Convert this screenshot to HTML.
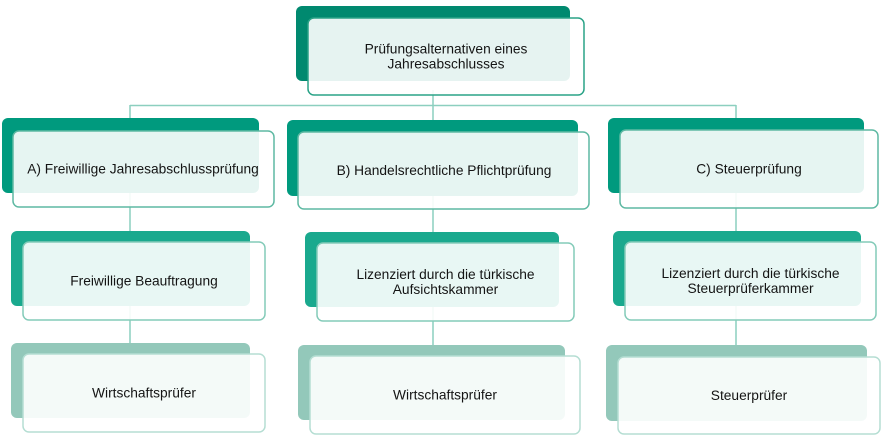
<!DOCTYPE html>
<html><head><meta charset="utf-8"><style>
html,body{margin:0;padding:0;background:#fff;}
svg{display:block;}
text{font-family:"Liberation Sans",Arial,sans-serif;font-size:13.75px;fill:#141414;}
</style></head><body>
<svg width="882" height="437" viewBox="0 0 882 437" xmlns="http://www.w3.org/2000/svg">
<g stroke="#8ccfbf" stroke-width="1.5" fill="none">
<line x1="130" y1="105.5" x2="736" y2="105.5"/>
<line x1="130" y1="105" x2="130" y2="345"/>
<line x1="433" y1="90" x2="433" y2="347"/>
<line x1="736" y1="105" x2="736" y2="347"/>
</g>
<!-- top -->
<rect x="296" y="6" width="274" height="75" rx="6" fill="#00896f"/>
<rect x="308" y="18" width="276" height="77" rx="6" fill="#fff" fill-opacity="0.9" stroke="#2aa387" stroke-width="1.5"/>
<text x="446" y="53.5" text-anchor="middle">Prüfungsalternativen eines</text>
<text x="446" y="68.5" text-anchor="middle">Jahresabschlusses</text>
<!-- level 1 -->
<rect x="2" y="118" width="257" height="75" rx="6" fill="#009a7e"/>
<rect x="13" y="131" width="261" height="76" rx="6" fill="#fff" fill-opacity="0.9" stroke="#5fb9a3" stroke-width="1.5"/>
<text x="143" y="173.5" text-anchor="middle">A) Freiwillige Jahresabschlussprüfung</text>
<rect x="287" y="120" width="291" height="76" rx="6" fill="#009a7e"/>
<rect x="298" y="132" width="291" height="77" rx="6" fill="#fff" fill-opacity="0.9" stroke="#5fb9a3" stroke-width="1.5"/>
<text x="444" y="175" text-anchor="middle">B) Handelsrechtliche Pflichtprüfung</text>
<rect x="608" y="118" width="256" height="75" rx="6" fill="#009a7e"/>
<rect x="620" y="130" width="258" height="78" rx="6" fill="#fff" fill-opacity="0.9" stroke="#5fb9a3" stroke-width="1.5"/>
<text x="749" y="173.5" text-anchor="middle">C) Steuerprüfung</text>
<!-- level 2 -->
<rect x="11" y="231" width="239" height="75" rx="6" fill="#1aa98e"/>
<rect x="23" y="242" width="242" height="78" rx="6" fill="#fff" fill-opacity="0.9" stroke="#84cbb9" stroke-width="1.5"/>
<text x="144" y="285.5" text-anchor="middle">Freiwillige Beauftragung</text>
<rect x="305" y="232" width="254" height="75" rx="6" fill="#1aa98e"/>
<rect x="317" y="243" width="257" height="78" rx="6" fill="#fff" fill-opacity="0.9" stroke="#84cbb9" stroke-width="1.5"/>
<text x="445.5" y="279" text-anchor="middle">Lizenziert durch die türkische</text>
<text x="445.5" y="294" text-anchor="middle">Aufsichtskammer</text>
<rect x="613" y="231" width="248" height="75" rx="6" fill="#1aa98e"/>
<rect x="625" y="242" width="251" height="78" rx="6" fill="#fff" fill-opacity="0.9" stroke="#84cbb9" stroke-width="1.5"/>
<text x="750.5" y="278" text-anchor="middle">Lizenziert durch die türkische</text>
<text x="750.5" y="293" text-anchor="middle">Steuerprüferkammer</text>
<!-- level 3 -->
<rect x="11" y="343" width="239" height="75" rx="6" fill="#93c8ba"/>
<rect x="23" y="354" width="242" height="78" rx="6" fill="#fff" fill-opacity="0.9" stroke="#b5ded3" stroke-width="1.5"/>
<text x="144" y="397.5" text-anchor="middle">Wirtschaftsprüfer</text>
<rect x="298" y="345" width="267" height="75" rx="6" fill="#93c8ba"/>
<rect x="310" y="356" width="270" height="78" rx="6" fill="#fff" fill-opacity="0.9" stroke="#b5ded3" stroke-width="1.5"/>
<text x="445" y="399.5" text-anchor="middle">Wirtschaftsprüfer</text>
<rect x="606" y="345" width="261" height="76" rx="6" fill="#93c8ba"/>
<rect x="618" y="357" width="262" height="77" rx="6" fill="#fff" fill-opacity="0.9" stroke="#b5ded3" stroke-width="1.5"/>
<text x="749" y="400" text-anchor="middle">Steuerprüfer</text>
</svg>
</body></html>
